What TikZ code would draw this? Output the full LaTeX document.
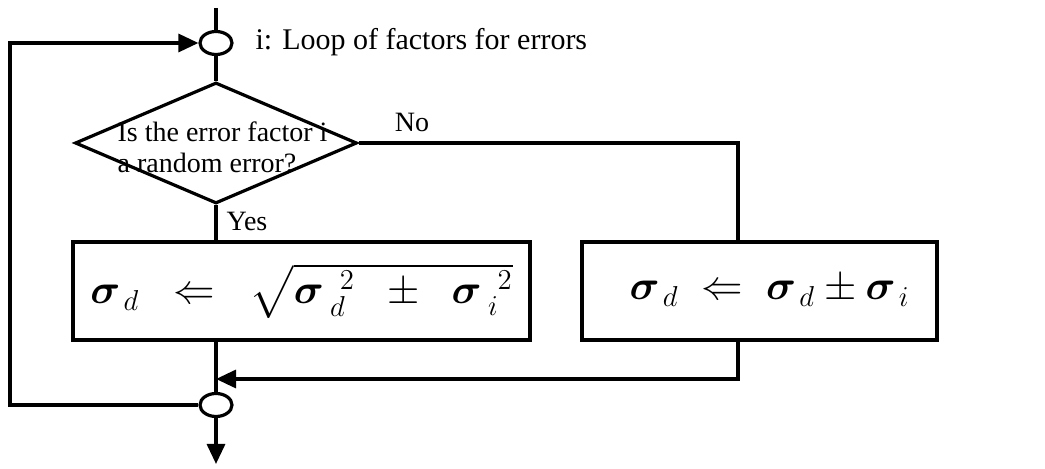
\documentclass[tikz,border=0pt]{standalone}
\usepackage{amsmath,amssymb,bm}
\usepackage{fontspec}
\setmainfont{Liberation Serif}
\usepackage{tikz}
\usetikzlibrary{arrows.meta,positioning,calc,shapes.geometric}

\newcommand{\sg}{\bm{\sigma}}

\begin{document}
\begin{tikzpicture}[
  x=0.5pt, y=-0.5pt,
  line width=1.6pt,
  junc/.style={draw, ellipse, minimum width=16pt, minimum height=11.5pt, inner sep=0pt},
  decision/.style={draw, diamond, minimum width=141pt, minimum height=60.5pt, inner sep=0pt},
  block/.style={draw, minimum height=49pt, inner sep=0pt, font=\fontsize{22}{26}\selectfont},
  lbl/.style={inner sep=0pt, font=\fontsize{14}{15.5}\selectfont},
  arr/.style={-{Triangle[length=10pt, width=9pt]}}
]
\useasboundingbox (0,0) rectangle (1045,469);

\node[junc] (top) at (216,43) {};
\node[decision] (q) at (216,143) {};
\node[block, minimum width=228.5pt] (upd1) at (301.5,291) {$\sg_{\,d} \;\;\Leftarrow\;\; \sqrt{\sg_{\;d}^{\;\;2} \;\;\pm\;\; \sg_{\;i}^{\;\;2}}$};
\node[block, minimum width=177.5pt] (upd2) at (759.5,291) {\hspace{10pt}$\sg_{\,d} \;\Leftarrow\; \sg_{\,d} \pm \sg_{\,i}$};
\node[junc] (bot) at (216,405) {};

\node[lbl, anchor=west, font=\fontsize{15}{17}\selectfont] (looplbl) at (254,42) {i: Loop of factors for errors};
\node[lbl, anchor=west, align=left] (qtxt) at (116,147) {Is the error factor i\\a random error?};
\node[lbl] (nolbl) at (412,122) {No};
\node[lbl, anchor=south] (yeslbl) at (247,232) {Yes};

\coordinate (in) at (216,8);
\coordinate (merge) at (216,379);
\coordinate (loopx) at (10,0);
\coordinate (out) at (216,464);

\draw (in) -- (top);
\draw (top) -- (q);
\draw (q.south) -- (q.south |- upd1.north);
\draw (q.east) -| ([xshift=-10.75pt]upd2.north);
\draw (upd1.south -| bot) -- (bot);
\draw[arr] ([xshift=-10.75pt]upd2.south) |- (merge);
\draw[arr] (bot.west) -- (bot.west -| loopx) |- (top.west);
\draw[arr] (bot) -- (out);
\end{tikzpicture}
\end{document}
